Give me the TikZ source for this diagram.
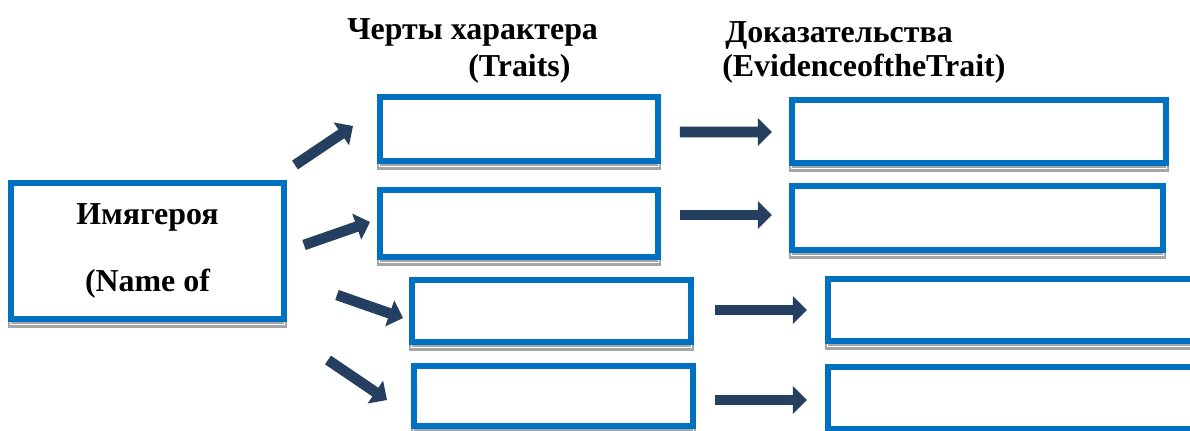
\documentclass[tikz,border=0pt]{standalone}
\usepackage{fontspec}
\setmainfont{Liberation Serif}
\usetikzlibrary{arrows.meta,backgrounds}
\definecolor{boxblue}{HTML}{0070C0}
\definecolor{arrownavy}{HTML}{243F60}
\definecolor{shadowgray}{HTML}{A6A6A6}

\begin{document}
\begin{tikzpicture}[x=0.025cm,y=-0.025cm,
    headtext/.style={font=\fontsize{22.7}{27}\selectfont\bfseries,anchor=base west,inner sep=0pt},
    framebox/.style 2 args={draw=boxblue,line width=4.25pt,fill=white,inner sep=0pt,
      minimum width=#1*0.025cm,minimum height=#2*0.025cm},
    boxshadow/.style={draw=shadowgray,line width=1.5pt,double=white,double distance=0.7pt},
    fatarrow/.style={-{Triangle[width=19pt,length=10pt]},line width=7.5pt,draw=arrownavy}
  ]
    \useasboundingbox (0,0) rectangle (1190,430);
    % hero box
    \node[framebox={273}{136},align=center,font=\fontsize{22.7}{27}\selectfont\bfseries]
      (hero) at (147.5,251) {Имягероя\\[21.2pt](Name of};
    % traits column
    \node[framebox={278}{64}] (t1) at (519,129) {};
    \node[framebox={278}{67}] (t2) at (519,223.5) {};
    \node[framebox={279}{62}] (t3) at (551.5,311) {};
    \node[framebox={279}{60}] (t4) at (553.5,396) {};
    % evidence column
    \node[framebox={374}{63}] (e1) at (979,131.5) {};
    \node[framebox={371}{64}] (e2) at (977.5,218) {};
    \node[framebox={374}{62}] (e3) at (1015,310) {};
    \node[framebox={374}{62}] (e4) at (1015,398) {};
    % headings
    \node[headtext] (traitshead) at (347,39) {Черты характера};
    \node[headtext] (traitssub) at (468,76) {(Traits)};
    \node[headtext] (evidhead) at (725,42) {Доказательства};
    \node[headtext] (evidsub) at (722,76) {(EvidenceoftheTrait)};
    % hero -> traits
    \draw[fatarrow] ([shift={(8,-15)}]hero.north east) -- ([shift={(-24,-3)}]t1.west);
    \draw[fatarrow] ([shift={(17,-6)}]hero.east) -- ([shift={(-7,-1.5)}]t2.west);
    \draw[fatarrow] ([shift={(50,-27)}]hero.south east) -- ([shift={(-6,7)}]t3.west);
    \draw[fatarrow] ([shift={(41,38)}]hero.south east) -- ([shift={(-24,4)}]t4.west);
    % traits -> evidence
    \draw[fatarrow] ([shift={(19,3)}]t1.east) -- ([shift={(-17,0.5)}]e1.west);
    \draw[fatarrow] ([shift={(19,-8.5)}]t2.east) -- ([shift={(-17,-3)}]e2.west);
    \draw[fatarrow] ([shift={(21,-1)}]t3.east) -- ([shift={(-18,0)}]e3.west);
    \draw[fatarrow] ([shift={(19,4)}]t4.east) -- ([shift={(-18,2)}]e4.west);
    \begin{scope}[on background layer]
      \fill[white] (0,0) rectangle (1190,430);
      \foreach \b in {hero,t1,t2,t3,t4,e1,e2,e3,e4}
        \draw[boxshadow] ([xshift=1.6pt,yshift=-2.1pt]\b.south west)
          rectangle ([xshift=-1.6pt,yshift=-2.1pt]\b.north east);
    \end{scope}
  \end{tikzpicture}
\end{document}
